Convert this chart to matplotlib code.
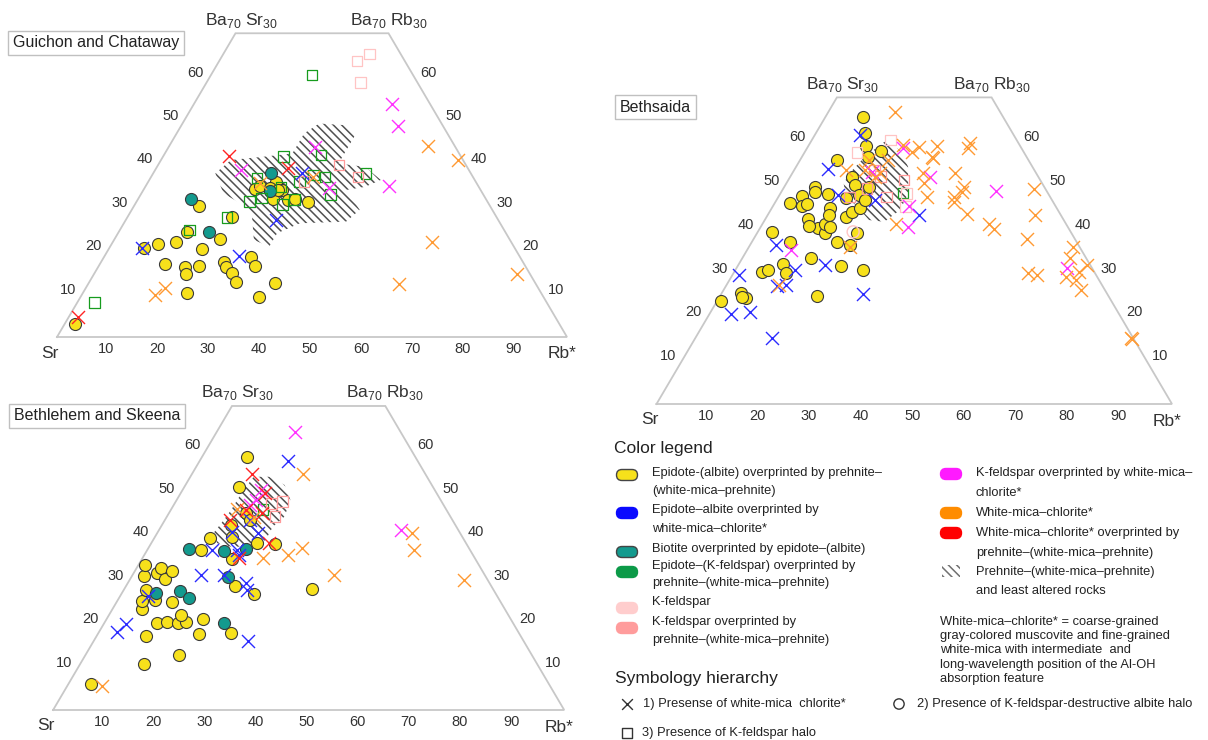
import numpy as np
import matplotlib.pyplot as plt
from matplotlib.patches import Polygon, FancyBboxPatch

plt.rcParams['font.family'] = ['Liberation Sans', 'DejaVu Sans']
plt.rcParams['hatch.linewidth'] = 1.1

# compositions as (Ba, Rb*) in percent, Sr is the rest
# --- Guichon and Chataway
gc_epidote = [(3.1, 1.9), (20.4, 6.9), (21.4, 9.2), (22.0, 12.3), (24.1, 13.5), (20.2, 18.3),
              (22.5, 20.7), (16.9, 12.8), (16.1, 17.0), (14.5, 18.0), (16.4, 19.6), (10.2, 20.4),
              (17.2, 24.1), (16.1, 25.0), (14.7, 27.0), (12.7, 28.7), (18.4, 28.8), (16.4, 30.7),
              (9.3, 35.0), (12.4, 36.5), (30.3, 12.6), (27.7, 20.5), (34.0, 21.8), (34.8, 22.4),
              (31.8, 26.5), (35.8, 25.1), (33.9, 27.2), (34.3, 24.6), (31.6, 29.5), (31.7, 30.8),
              (31.2, 33.7), (33.9, 26.4)]
gc_biotite = [(31.7, 10.5), (24.3, 17.7), (37.7, 23.1), (33.7, 25.0)]
gc_ep_kfs = [(7.9, 3.4), (24.7, 13.6), (27.6, 19.5), (60.4, 19.8), (41.6, 23.6), (41.9, 30.8),
             (36.6, 20.9), (31.2, 22.2), (32.0, 24.1), (30.6, 28.9), (31.7, 30.7), (34.6, 26.6),
             (35.8, 29.7), (37.3, 31.6), (36.9, 34.1), (32.9, 37.2), (37.7, 41.7)]
gc_kfs = [(63.6, 27.0), (65.2, 28.7), (58.6, 30.2)]
gc_kfs_prh = [(39.6, 35.5), (36.9, 40.6), (35.8, 30.5)]
gc_wmc_prh = [(4.5, 1.9), (41.6, 12.9), (38.9, 25.8)]
gc_ep_wmc = [(20.4, 6.4), (18.7, 26.4), (27.0, 29.4), (37.7, 29.2)]
gc_kfs_wmc = [(38.5, 16.9), (43.9, 28.6), (34.3, 36.2), (53.8, 38.7), (48.7, 42.5), (34.8, 47.7)]
gc_wmc = [(9.7, 14.4), (11.4, 15.4), (35.4, 22.2), (36.9, 31.8), (44.1, 50.6), (40.9, 58.1),
          (21.8, 62.7), (12.2, 61.0), (14.5, 82.9)]
gc_hatch = [(37.7, 12.2), (40.8, 13.7), (41.5, 19.4), (42.3, 25.0), (46.9, 25.0), (49.2, 26.8),
            (48.8, 32.3), (46.9, 35.2), (43.1, 35.2), (40.0, 35.2), (39.2, 40.8), (36.2, 45.4),
            (34.6, 43.1), (33.9, 39.8), (29.3, 44.7), (26.6, 43.4), (26.2, 34.5), (23.9, 31.2),
            (20.8, 31.2), (22.4, 27.4), (27.7, 24.4), (30.0, 22.1), (33.1, 16.1)]

# --- Bethlehem and Skeena
bs_epidote = [(6.0, 4.4), (10.7, 12.5), (12.7, 18.3), (17.1, 9.7), (17.5, 19.8), (17.8, 25.9),
              (20.0, 10.3), (20.2, 12.1), (20.0, 14.4), (20.3, 15.8), (21.9, 14.0), (20.9, 18.8),
              (23.2, 5.7), (25.2, 4.7), (25.3, 7.3), (24.8, 10.8), (27.6, 4.3), (30.9, 2.3),
              (33.4, 1.2), (31.5, 4.5), (32.8, 4.8), (30.1, 6.8), (32.1, 7.2), (36.8, 10.5),
              (39.5, 11.0), (34.7, 17.6), (28.5, 21.4), (26.6, 26.0), (38.4, 20.7), (38.2, 24.3),
              (42.6, 13.5), (39.9, 15.0), (45.3, 15.1), (43.7, 16.6), (51.4, 10.7), (58.3, 8.7),
              (27.9, 36.8)]
bs_biotite = [(37.1, 8.1), (36.6, 15.1), (37.1, 19.2), (30.7, 18.9), (27.0, 6.6), (27.4, 11.1),
              (25.9, 13.7), (20.0, 23.5)]
bs_ep_kfs = [(46.1, 18.0)]
bs_kfs_prh = [(48.0, 20.9), (44.5, 21.2), (47.5, 19.0)]
bs_ep_wmc = [(18.0, 3.6), (19.8, 4.3), (26.2, 5.5), (31.1, 13.4), (31.1, 17.9), (36.8, 12.6),
             (41.1, 14.5), (36.8, 17.5), (35.7, 18.5), (29.2, 23.2), (27.6, 24.2), (16.0, 30.1),
             (40.7, 19.8), (43.7, 16.7), (57.4, 17.2)]
bs_wmc_prh = [(54.3, 11.8), (43.7, 12.8), (46.0, 14.8), (34.9, 18.9), (38.4, 23.1), (49.9, 16.6),
              (45.3, 18.2)]
bs_kfs_wmc = [(64.1, 15.3), (41.4, 47.3), (50.7, 15.4), (48.3, 15.6), (47.2, 14.9)]
bs_wmc = [(5.5, 6.8), (54.3, 21.7), (46.2, 12.8), (35.1, 23.5), (35.7, 28.2), (37.2, 30.1),
          (31.1, 39.4), (40.7, 49.9), (36.8, 52.3), (29.9, 65.5), (44.5, 17.0)]
bs_hatch = [(40.7, 11.0), (43.0, 11.4), (46.0, 11.8), (50.3, 11.9), (53.7, 12.4), (53.7, 15.4),
            (51.8, 19.4), (48.3, 22.3), (44.5, 23.0), (42.2, 21.9), (39.1, 22.0), (37.6, 19.7),
            (37.6, 16.0), (38.4, 12.9)]

# --- Bethsaida
bt_epidote = [(23.6, 0.7), (25.4, 3.7), (24.1, 5.4), (24.5, 4.4), (30.2, 5.3), (30.6, 6.4),
              (32.0, 8.6), (29.8, 10.3), (39.2, 2.8), (37.1, 7.3), (33.3, 13.3), (24.7, 18.8),
              (31.4, 20.1), (30.6, 24.8), (37.1, 16.4), (36.3, 19.3), (40.1, 11.2), (39.0, 13.2),
              (41.2, 12.1), (42.2, 8.2), (40.6, 9.3), (45.8, 3.0), (47.5, 4.5), (45.3, 5.5),
              (45.7, 6.3), (49.5, 5.9), (48.5, 6.4), (47.9, 9.3), (44.7, 11.3), (43.2, 11.9),
              (42.8, 15.3), (43.9, 15.9), (44.7, 17.2), (55.6, 7.3), (65.6, 7.3), (61.9, 9.5),
              (58.8, 11.2), (57.8, 14.7), (47.0, 13.3), (51.9, 11.9), (50.0, 13.5), (47.7, 15.5),
              (46.6, 17.1), (49.6, 16.4), (56.5, 12.8), (39.0, 19.3), (40.5, 13.4)]
bt_ep_kfs = [(48.2, 23.7)]
bt_kfs = [(60.3, 15.2), (57.4, 10.2), (45.1, 25.8), (48.1, 24.4)]
bt_kfs_prh = [(53.4, 15.6), (47.3, 21.0), (51.9, 17.5), (49.2, 16.2), (47.3, 13.8), (51.1, 22.5)]
bt_kfs_halo = [(39.3, 18.5)]
bt_ep_wmc = [(15.1, 14.9), (20.5, 4.2), (20.9, 7.6), (29.5, 1.3), (36.3, 5.1), (27.0, 9.9),
             (27.2, 11.5), (30.6, 11.5), (31.7, 16.9), (25.1, 27.6), (53.6, 6.5), (61.4, 8.8),
             (47.7, 11.3), (46.6, 19.0), (43.2, 29.3)]
bt_kfs_wmc = [(35.2, 8.5), (45.3, 26.3), (40.5, 28.5), (51.8, 27.2), (48.7, 41.6), (31.0, 64.2),
              (58.4, 18.6), (53.0, 15.4)]
bt_wmc = [(66.7, 12.9), (27.2, 10.2), (35.9, 19.5), (41.2, 25.9), (59.1, 18.3), (58.6, 21.7),
          (58.9, 25.0), (56.5, 25.1), (56.1, 25.6), (57.6, 20.7), (59.5, 31.1), (58.4, 31.3),
          (52.7, 25.4), (50.5, 26.6), (47.3, 28.9), (52.8, 31.6), (49.6, 34.9), (48.5, 35.1),
          (47.2, 34.2), (46.2, 34.6), (43.4, 38.5), (41.2, 43.9), (39.9, 45.6), (37.7, 53.0),
          (29.8, 57.1), (29.5, 59.0), (49.1, 48.6), (43.2, 51.9), (35.9, 62.9), (33.3, 63.5),
          (31.7, 67.7), (30.2, 66.9), (29.1, 64.9), (28.3, 67.2), (26.0, 69.4), (15.1, 84.5),
          (14.8, 84.8), (53.4, 10.1), (55.7, 13.3), (52.7, 17.1), (51.9, 16.4), (55.7, 17.1),
          (53.4, 13.7)]
bt_hatch = [(52.7, 11.1), (56.5, 12.2), (59.9, 14.3), (58.0, 18.2), (54.2, 21.7), (48.1, 24.8),
            (44.3, 25.1), (41.6, 23.4), (42.0, 20.2), (45.1, 16.4), (47.3, 13.1), (50.4, 11.1)]

ticks_side = [10, 20, 30, 40, 50, 60]
ticks_base = [10, 20, 30, 40, 50, 60, 70, 80, 90]

YELLOW = '#F7E11B'
TEAL = '#139A8E'
GREEN = '#179C1E'
PINK = '#FFC4C4'
SALMON = '#FF9A9A'
BLUE = '#2B2BFF'
MAGENTA = '#FF33FF'
ORANGE = '#FF9A33'
RED = '#FF2424'
TXT = '#333333'

W, H = 1208, 740
fig = plt.figure(figsize=(W / 100, H / 100), dpi=100)


def tern(pts):
    a = np.asarray(pts, dtype=float)
    return a[:, 1] + a[:, 0] / 2, a[:, 0]


def make_ax(left, right, base, h100):
    sx = (right - left) / 100
    sy = h100 / 100
    x0, x1, y0, y1 = -12, 112, -8, 82
    ax = fig.add_axes([(left + x0 * sx) / W, (H - base + y0 * sy) / H,
                       (x1 - x0) * sx / W, (y1 - y0) * sy / H])
    ax.set_xlim(x0, x1)
    ax.set_ylim(y0, y1)
    ax.axis('off')
    return ax


def note(ax, s, pt, dx, dy, ha='center', size=10.5):
    x, y = tern([pt])
    ax.annotate(s, (x[0], y[0]), xytext=(dx, dy), textcoords='offset pixels',
                ha=ha, va='center', fontsize=size, color=TXT)


def panel(ax, hatch, circles, squares, crosses):
    fx, fy = tern([(0, 0), (0, 100), (70, 30), (70, 0), (0, 0)])
    ax.plot(fx, fy, color='#c8c8c8', lw=1.3, solid_joinstyle='miter', zorder=1)
    hx, hy = tern(hatch)
    ax.add_patch(Polygon(np.column_stack([hx, hy]), closed=True, fc='none', ec='#505050',
                         lw=0, hatch='\\\\\\\\', zorder=2))
    for pts, fc in circles:
        x, y = tern(pts)
        ax.scatter(x, y, s=75, marker='o', fc=fc, ec='#3a3a3a', lw=0.8, zorder=3)
    for pts, col in squares:
        x, y = tern(pts)
        ax.scatter(x, y, s=58, marker='s', fc='none', ec=col, lw=0.9, zorder=4)
    for pts, col in crosses:
        x, y = tern(pts)
        ax.scatter(x, y, s=88, marker='x', c=col, lw=1.0, zorder=5)

    for t in ticks_side:
        note(ax, str(t), (t, 0), -6, 4, ha='right')
        note(ax, str(t), (t, 100 - t), 6, 4, ha='left')
    for t in ticks_base:
        note(ax, str(t), (0, t), -2, -12)
    note(ax, 'Sr', (0, 0), -7, -16, size=12.5)
    note(ax, 'Rb*', (0, 100), -5, -17, size=12.5)
    note(ax, r'Ba$_{\mathregular{70}}$ Sr$_{\mathregular{30}}$', (70, 0), 6, 13, size=12.5)
    note(ax, r'Ba$_{\mathregular{70}}$ Rb$_{\mathregular{30}}$', (70, 30), 0, 13, size=12.5)


ax1 = make_ax(57, 567, 337, 433.9)
panel(ax1, gc_hatch,
      [(gc_epidote, YELLOW), (gc_biotite, TEAL)],
      [(gc_ep_kfs, GREEN), (gc_kfs, PINK), (gc_kfs_prh, SALMON)],
      [(gc_ep_wmc, BLUE), (gc_kfs_wmc, MAGENTA), (gc_wmc, ORANGE), (gc_wmc_prh, RED)])

ax3 = make_ax(53.1, 564.2, 710, 434.3)
panel(ax3, bs_hatch,
      [(bs_epidote, YELLOW), (bs_biotite, TEAL)],
      [(bs_ep_kfs, GREEN), (bs_kfs_prh, SALMON)],
      [(bs_ep_wmc, BLUE), (bs_kfs_wmc, MAGENTA), (bs_wmc, ORANGE), (bs_wmc_prh, RED)])

ax2 = make_ax(656.5, 1172, 404, 438)
panel(ax2, bt_hatch,
      [(bt_epidote, YELLOW)],
      [(bt_ep_kfs, GREEN), (bt_kfs, PINK), (bt_kfs_prh, SALMON)],
      [(bt_ep_wmc, BLUE), (bt_kfs_wmc, MAGENTA), (bt_wmc, ORANGE)])
hx, hy = tern(bt_kfs_halo)
ax2.scatter(hx, hy, s=75, marker='o', fc='none', ec=PINK, lw=1.0, zorder=4)

# overlay in pixel units for titles and legend
lg = fig.add_axes([0, 0, 1, 1])
lg.set_xlim(0, W)
lg.set_ylim(H, 0)
lg.axis('off')

box = dict(boxstyle='square,pad=0.3', fc='white', ec='#c0c0c0', lw=1)
lg.text(13, 43, 'Guichon and Chataway', fontsize=11.5, va='center', color='#222', bbox=box)
lg.text(14, 416, 'Bethlehem and Skeena', fontsize=11.5, va='center', color='#222', bbox=box)
lg.text(620, 107, 'Bethsaida', fontsize=11.5, va='center', color='#222', bbox=box)

lg.text(614, 449, 'Color legend', fontsize=12.5, va='center', color='#222')


def pill(x, y, fc, ec):
    lg.add_patch(FancyBboxPatch((x - 10.5, y - 5.5), 21, 11,
                                boxstyle='round,pad=0,rounding_size=5.5',
                                fc=fc, ec=ec, lw=1))


def lines(x, ys, texts):
    for y, s in zip(ys, texts):
        lg.text(x, y, s, fontsize=9.3, va='center', color='#222')


pill(627, 475, YELLOW, '#444444')
lines(652, [473, 491], ['Epidote-(albite) overprinted by prehnite–', '(white-mica–prehnite)'])
pill(627, 513, '#0A0AFF', '#0A0AFF')
lines(652, [510, 529], ['Epidote–albite overprinted by', 'white-mica–chlorite*'])
pill(627, 552, TEAL, '#444444')
lines(652, [549], ['Biotite overprinted by epidote–(albite)'])
pill(627, 572, '#0C9A48', '#0C9A48')
lines(652, [566, 583], ['Epidote–(K-feldspar) overprinted by', 'prehnite–(white-mica–prehnite)'])
pill(627, 608, '#FFCDCD', '#FFCDCD')
lines(652, [602], ['K-feldspar'])
pill(627, 628, '#FF9C9C', '#FF9C9C')
lines(652, [622, 640], ['K-feldspar overprinted by', 'prehnite–(white-mica–prehnite)'])

pill(951, 474, '#FF1AFF', '#FF1AFF')
lines(976, [473, 493], ['K-feldspar overprinted by white-mica–', 'chlorite*'])
pill(951, 513, '#FF8C00', '#FF8C00')
lines(976, [513], ['White-mica–chlorite*'])
pill(951, 533, '#FF0000', '#FF0000')
lines(976, [533, 553], ['White-mica–chlorite* overprinted by', 'prehnite–(white-mica–prehnite)'])
lg.add_patch(Polygon([(942, 577), (960, 577), (960, 565), (942, 565)], closed=True,
                     fc='none', ec='#707070', lw=0, hatch='\\\\\\\\'))
lines(976, [572, 591], ['Prehnite–(white-mica–prehnite)', 'and least altered rocks'])

lines(940, [622, 636, 650, 665, 679],
      ['White-mica–chlorite* = coarse-grained',
       'gray-colored muscovite and fine-grained',
       'white-mica with intermediate  and',
       'long-wavelength position of the Al-OH',
       'absorption feature'])

lg.text(615, 678, 'Symbology hierarchy', fontsize=12.5, va='center', color='#222')
lg.scatter([627], [704], s=60, marker='x', c='#333333', lw=1.0)
lines(643, [704], ['1) Presense of white-mica  chlorite*'])
lg.scatter([899], [704], s=55, marker='o', fc='none', ec='#333333', lw=1.0)
lines(917, [704], ['2) Presence of K-feldspar-destructive albite halo'])
lg.scatter([627], [733], s=55, marker='s', fc='none', ec='#333333', lw=1.0)
lines(642, [733], ['3) Presence of K-feldspar halo'])

fig.savefig('out.png', dpi=100, facecolor='white')
